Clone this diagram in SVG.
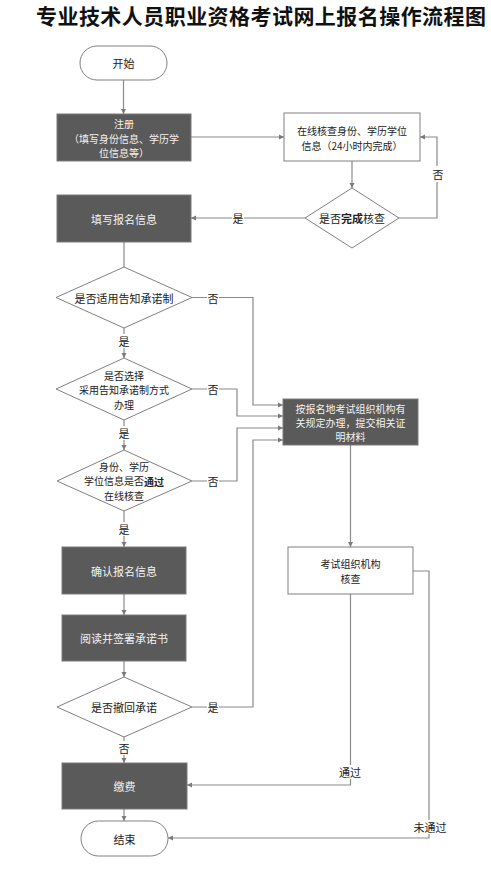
<svg xmlns="http://www.w3.org/2000/svg" width="491" height="873" viewBox="0 0 491 873">
<style>
text{font-family:"Noto Sans CJK SC","Liberation Sans",sans-serif;font-size:11px;text-anchor:middle;dominant-baseline:central;fill:#222}
.title{font-size:21px;font-weight:bold;fill:#111;text-anchor:start}
.ml text{font-size:10px}
.dark rect,.dark path{fill:#5a5a5a;stroke:#7a7a7a;stroke-width:1}
.dark text{fill:#f2f2f2}
.light rect,.light path{fill:#fff;stroke:#808080;stroke-width:1}
.conn path{fill:none;stroke:#8a8a8a;stroke-width:1.2}
.lbl rect{fill:#fff}
</style>
<defs>
<marker id="ah" markerWidth="6" markerHeight="6" refX="5" refY="3" orient="auto" markerUnits="userSpaceOnUse">
<path d="M0,0.5 L5,3 L0,5.5 z" fill="#7a7a7a"/>
</marker>
</defs>
<rect width="491" height="873" fill="#fff"/>
<text class="title" x="36" y="15" textLength="450" lengthAdjust="spacing">专业技术人员职业资格考试网上报名操作流程图</text>

<g class="conn" marker-end="url(#ah)">
<path d="M123.5,80 V114"/>
<path d="M191,137 H284"/>
<path d="M352,161 V188"/>
<path d="M399,218 H437 V137 H420"/>
<path d="M305,218 H191"/>
<path d="M124,242 V267" marker-end="none"/>
<path d="M124,328 V358"/>
<path d="M192,297.5 H253 V405 H283"/>
<path d="M192,389 H237 V416 H283"/>
<path d="M124,420 V450"/>
<path d="M192,481 H237 V428 H283"/>
<path d="M124,511 V547"/>
<path d="M124,594 V615"/>
<path d="M124,661 V677"/>
<path d="M192,707 H253 V440 H283"/>
<path d="M124,737 V763"/>
<path d="M124,809 V821"/>
<path d="M350.5,445 V547"/>
<path d="M350.5,594 V785 H187"/>
<path d="M413,571 H429 V838 H168"/>
</g>

<g class="lbl">
<rect x="433" y="166" width="11" height="16"/><text x="438" y="174">否</text>
<rect x="232" y="211" width="12" height="14"/><text x="238" y="218">是</text>
<rect x="207" y="290" width="12" height="14"/><text x="213" y="297.5">否</text>
<rect x="118" y="334" width="12" height="14"/><text x="124" y="341">是</text>
<rect x="207" y="382" width="12" height="14"/><text x="213" y="389">否</text>
<rect x="118" y="426" width="12" height="14"/><text x="124" y="433">是</text>
<rect x="207" y="474" width="12" height="14"/><text x="213" y="481">否</text>
<rect x="118" y="522" width="12" height="14"/><text x="124" y="529">是</text>
<rect x="207" y="700" width="12" height="14"/><text x="213" y="707">是</text>
<rect x="118" y="741" width="12" height="14"/><text x="124" y="748">否</text>
<rect x="338" y="765" width="24" height="14"/><text x="350" y="772">通过</text>
<rect x="413" y="820" width="35" height="14"/><text x="430" y="827">未通过</text>
</g>

<g id="start" class="light"><rect x="80" y="46" width="87" height="34" rx="17"/><text x="123.5" y="63">开始</text></g>
<g id="register" class="dark ml"><rect x="57" y="114" width="134" height="47"/>
<text x="124" y="123">注册</text><text x="124" y="138">（填写身份信息、学历学</text><text x="124" y="152">位信息等）</text></g>
<g id="online-check" class="light ml"><rect x="284" y="113" width="136" height="48"/>
<text x="352" y="130">在线核查身份、学历学位</text><text x="352" y="145">信息（24小时内完成）</text></g>
<g id="check-done" class="light"><path d="M352,188 L399,218 L352,248 L305,218 z"/>
<text x="352" y="218">是否<tspan font-weight="bold">完成</tspan>核查</text></g>
<g id="fill-info" class="dark"><rect x="57" y="195" width="134" height="47"/><text x="124" y="218.5">填写报名信息</text></g>
<g id="d-apply" class="light"><path d="M124,267 L192,297.5 L124,328 L56,297.5 z"/><text x="124" y="297.5">是否适用告知承诺制</text></g>
<g id="d-choose" class="light ml"><path d="M124,358 L192,389 L124,420 L56,389 z"/>
<text x="124" y="375">是否选择</text><text x="124" y="389.5">采用告知承诺制方式</text><text x="124" y="404">办理</text></g>
<g id="d-pass" class="light ml"><path d="M124,450 L192,481 L124,511 L57,481 z"/>
<text x="124" y="466">身份、学历</text><text x="124" y="480.5">学位信息是否<tspan font-weight="bold">通过</tspan></text><text x="124" y="495">在线核查</text></g>
<g id="local" class="dark ml"><rect x="283" y="399" width="135" height="46"/>
<text x="350.5" y="408">按报名地考试组织机构有</text><text x="350.5" y="422">关规定办理，提交相关证</text><text x="350.5" y="436">明材料</text></g>
<g id="confirm" class="dark"><rect x="62" y="547" width="124" height="47"/><text x="124" y="570.5">确认报名信息</text></g>
<g id="review" class="light ml"><rect x="288" y="547" width="125" height="47"/>
<text x="350.5" y="563">考试组织机构</text><text x="350.5" y="578">核查</text></g>
<g id="sign" class="dark"><rect x="62" y="615" width="124" height="46"/><text x="124" y="638">阅读并签署承诺书</text></g>
<g id="d-withdraw" class="light"><path d="M124,677 L192,707 L124,737 L57,707 z"/><text x="124" y="707">是否撤回承诺</text></g>
<g id="pay" class="dark"><rect x="62" y="763" width="125" height="46"/><text x="124.5" y="786">缴费</text></g>
<g id="end" class="light"><rect x="81" y="821" width="87" height="35" rx="17.5"/><text x="124.5" y="838.5">结束</text></g>
</svg>
